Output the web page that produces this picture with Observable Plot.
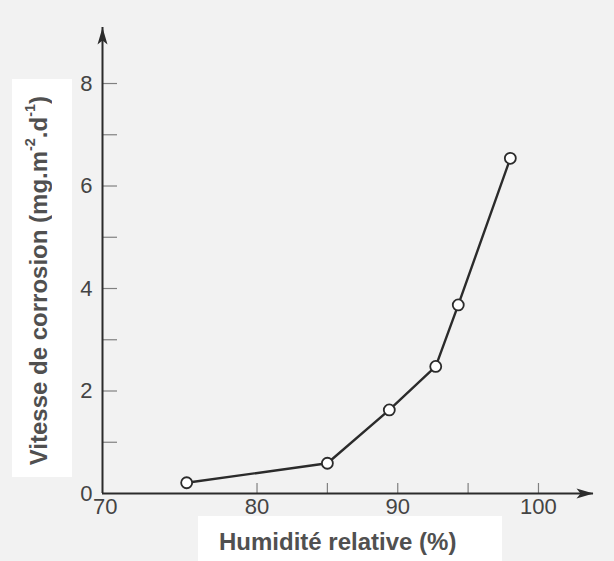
<!DOCTYPE html>
<html>
<head>
<meta charset="utf-8">
<script src="https://cdn.jsdelivr.net/npm/d3@7"></script>
<script src="https://cdn.jsdelivr.net/npm/@observablehq/plot@0.6"></script>
<style>
  html, body { margin: 0; padding: 0; background: #f2f2f2; }
  #wrap { position: relative; width: 614px; height: 561px; overflow: hidden; }
  #wrap svg { position: absolute; left: 0; top: 0; }
  .box { position: absolute; background: #ffffff; display: flex; align-items: center; justify-content: center;
         font-family: "Liberation Sans", Arial, sans-serif; font-weight: bold; color: #505050; font-size: 24px; box-sizing: border-box; }
  #ytitle span { writing-mode: vertical-rl; transform: rotate(180deg); white-space: nowrap; }
  sup { font-size: 0.6em; line-height: 0; }
</style>
</head>
<body>
<div id="wrap"></div>
<script>
// Data
const humidity = [75, 85, 89.4, 92.7, 94.3, 98.0];          // Humidité relative (%)
const rate = [0.21, 0.59, 1.63, 2.48, 3.68, 6.54];          // Vitesse de corrosion (mg.m-2.d-1)

// Axes
const xDomain = [69.02, 103.91];
const yDomain = [0, 9.093];
const xLabelTicks = [80, 90, 100];
const xFirstLabel = [70];
const xTickMarks = [80, 85, 90, 95, 100];
const yLabelTicks = [0, 2, 4, 6, 8];
const yTickMarks = [1, 2, 3, 4, 5, 6, 7, 8];

const xTitle = "Humidité relative (%)";

const data = humidity.map((h, i) => ({h, v: rate[i]}));
const arrowHeads = [
  {x: xDomain[0], y: yDomain[1], rot: 0},
  {x: xDomain[1], y: yDomain[0], rot: 90}
];

const arrowSymbol = {
  draw(ctx) {
    ctx.moveTo(0, 0);
    ctx.lineTo(5, 17);
    ctx.lineTo(0, 13);
    ctx.lineTo(-5, 17);
    ctx.closePath();
  }
};

const ink = "#2b2b2b";
const font = "'Liberation Sans', Arial, sans-serif";

const chart = Plot.plot({
  width: 614,
  height: 561,
  marginLeft: 102,
  marginRight: 21,
  marginTop: 27,
  marginBottom: 68,
  style: {background: "#f2f2f2", fontFamily: font},
  x: {domain: xDomain, axis: null},
  y: {domain: yDomain, axis: null},
  marks: [
    // inward tick marks
    Plot.axisY({ticks: yTickMarks, anchor: "left", tickSize: 15, dx: 15, text: null, label: null, stroke: "#808080", strokeWidth: 1.2}),
    Plot.axisX({ticks: xTickMarks, anchor: "bottom", tickSize: 10, dy: -10, text: null, label: null, stroke: "#808080", strokeWidth: 1.2}),
    // tick labels
    Plot.axisY({ticks: yLabelTicks, anchor: "left", tickSize: 0, tickPadding: 10, label: null, fontSize: 22, fill: "#444"}),
    Plot.axisX({ticks: xLabelTicks, anchor: "bottom", tickSize: 0, tickPadding: 5, label: null, fontSize: 22, fill: "#444"}),
    Plot.axisX({ticks: xFirstLabel, anchor: "bottom", tickSize: 0, tickPadding: 5, dx: -11, label: null, fontSize: 22, fill: "#444"}),
    // axis lines
    Plot.ruleX([xDomain[0]], {stroke: ink, strokeWidth: 2}),
    Plot.ruleY([yDomain[0]], {stroke: ink, strokeWidth: 2}),
    Plot.dot(arrowHeads, {x: "x", y: "y", rotate: "rot", r: 5, symbol: arrowSymbol, fill: ink, stroke: "none"}),
    // data
    Plot.line(data, {x: "h", y: "v", stroke: ink, strokeWidth: 2.4}),
    Plot.dot(data, {x: "h", y: "v", r: 5.5, fill: "white", stroke: ink, strokeWidth: 1.8})
  ]
});

const wrap = document.getElementById("wrap");
wrap.appendChild(chart);

const yt = document.createElement("div");
yt.id = "ytitle";
yt.className = "box";
Object.assign(yt.style, {left: "12px", top: "79px", width: "60px", height: "398px", paddingRight: "6px", paddingTop: "6px"});
yt.innerHTML = "<span>Vitesse de corrosion (mg.m<sup>-2</sup>.d<sup>-1</sup>)</span>";
wrap.appendChild(yt);

const xt = document.createElement("div");
xt.className = "box";
Object.assign(xt.style, {left: "198px", top: "516px", width: "304px", height: "45px", justifyContent: "flex-start", paddingLeft: "21px", paddingTop: "6px"});
xt.textContent = xTitle;
wrap.appendChild(xt);
</script>
</body>
</html>
